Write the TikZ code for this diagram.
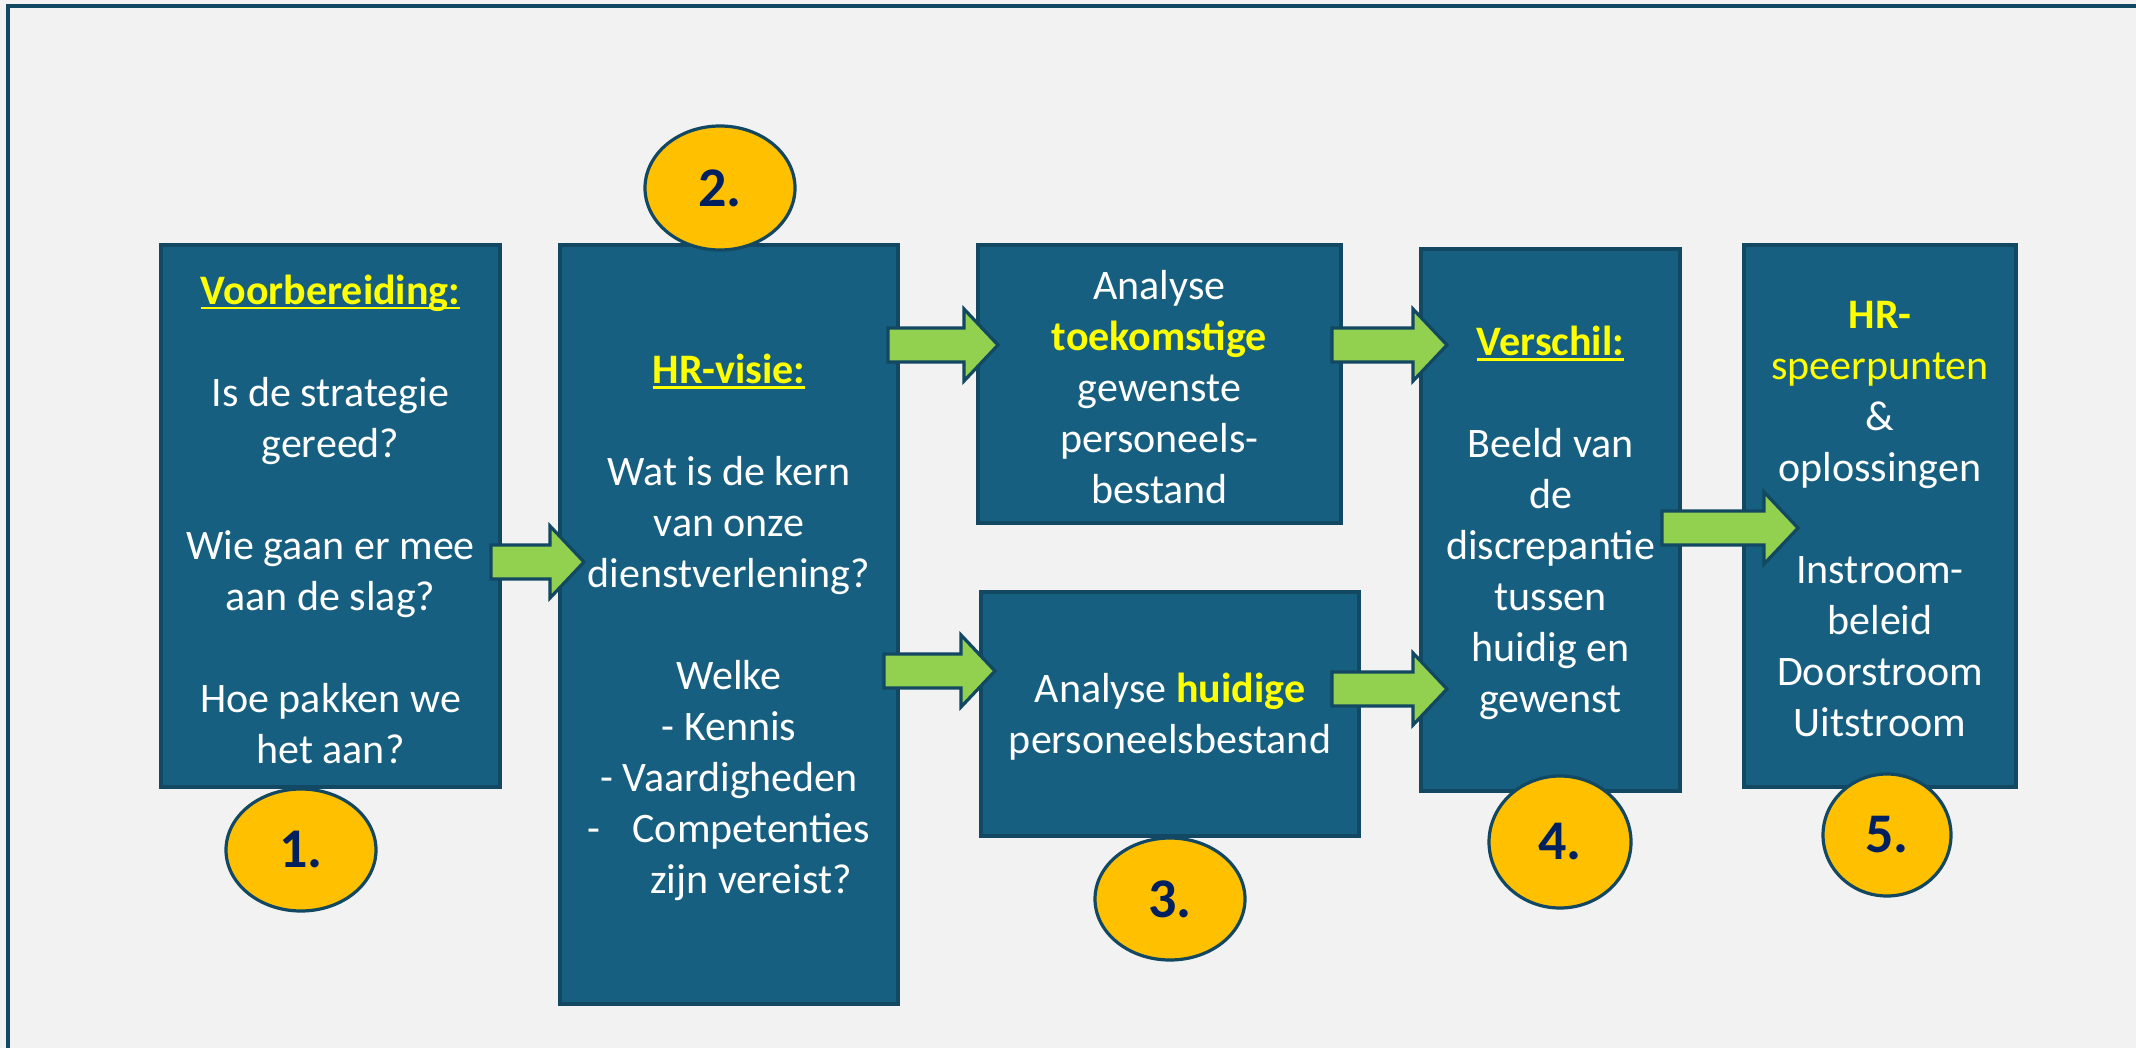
\documentclass[tikz,border=0pt]{standalone}
\usepackage{fontspec}
\setmainfont{Carlito}
\usetikzlibrary{shapes.geometric,calc,fit}

\definecolor{pagebg}{HTML}{F2F2F2}
\definecolor{boxfill}{HTML}{175F80}
\definecolor{edge}{HTML}{124862}
\definecolor{arrowgreen}{HTML}{92D050}
\definecolor{badgefill}{HTML}{FFC000}
\definecolor{badgetext}{HTML}{002060}
\definecolor{hilite}{HTML}{FFFF00}

\tikzset{
  stage/.style={draw=edge, fill=boxfill, line width=1.6pt, inner sep=0pt, outer sep=0pt},
  stagetext/.style={text=white, align=center, inner sep=0pt, font=\fontsize{21}{25.5}\selectfont},
  badge/.style={ellipse, draw=edge, fill=badgefill, line width=1.6pt, inner sep=0pt,
    text=badgetext, font=\fontsize{28}{30}\selectfont\bfseries},
  flowarrow/.style={draw=edge, fill=arrowgreen, line width=1.6pt, line join=miter},
}

% yellow highlight and a thin underline for headings
\newcommand\hl[1]{\textcolor{hilite}{#1}}
\newcommand\uline[1]{\leavevmode\setbox0\hbox{#1}\rlap{\rule[-2.6pt]{\wd0}{1.2pt}}\box0}
\newcommand\heading[1]{\hl{\uline{\bfseries #1}}}

% green block arrow from a tail coordinate to a tip coordinate (same height)
\newcommand\blockarrow[2]{%
  \draw[flowarrow] ($(#1)+(0,-17)$) -- ($(#2)+(-34,-17)$) -- ($(#2)+(-34,-36)$) -- (#2)
    -- ($(#2)+(-34,36)$) -- ($(#2)+(-34,17)$) -- ($(#1)+(0,17)$) -- cycle;}

\begin{document}
\begin{tikzpicture}[x=0.5pt, y=-0.5pt]
  \useasboundingbox (0,0) rectangle (2136,1048);
  \clip (0,0) rectangle (2136,1048);
  \fill[pagebg] (0,0) rectangle (2136,1048);
  \draw[edge, line width=2pt] (8,1060) -- (8,6) -- (2150,6);

  % stage boxes
  \node[stage, fit={(161,245) (500,787)}] (b1) {};
  \node[stage, fit={(560,245) (898,1004)}] (b2) {};
  \node[stage, fit={(978,245) (1341,523)}] (b3) {};
  \node[stage, fit={(981,592) (1359,836)}] (b4) {};
  \node[stage, fit={(1421,249) (1680,791)}] (b5) {};
  \node[stage, fit={(1744,245) (2016,787)}] (b6) {};

  % stage texts
  \node[stagetext] (t1) at ($(b1.center)+(0,3)$) {%
    \heading{Voorbereiding:}\\[25.5pt]
    Is de strategie\\ gereed?\\[25.5pt]
    Wie gaan er mee\\ aan de slag?\\[25.5pt]
    Hoe pakken we\\ het aan?};

  \node[stagetext] (t2) at ($(b2.center)+(0,3)$) {%
    \heading{HR-visie:}\\[25.5pt]
    Wat is de kern\\ van onze\\ dienstverlening?\\[25.5pt]
    Welke\\ - Kennis\\ - Vaardigheden\\ -\hspace{16pt}Competenties\\
    \hspace*{22pt}zijn vereist?};

  \node[stagetext] (t3) at ($(b3.center)+(0,3)$) {%
    Analyse\\ \hl{\bfseries toekomstige}\\ gewenste\\ personeels-\\ bestand};

  \node[stagetext] (t4) at ($(b4.center)+(0,3)$) {%
    Analyse \hl{\bfseries huidige}\\ personeelsbestand};

  \node[stagetext] (t5) at ($(b5.center)+(0,3)$) {%
    \heading{Verschil:}\\[25.5pt]
    Beeld van\\ de\\ discrepantie\\ tussen\\ huidig en\\ gewenst};

  \node[stagetext] (t6) at ($(b6.center)+(0,3)$) {%
    \hl{\bfseries HR-}\\ \hl{speerpunten}\\ \&\\ oplossingen\\[25.5pt]
    Instroom-\\ beleid\\ Doorstroom\\ Uitstroom};

  % arrow ends
  \coordinate (a1s) at ($(b1.east)+(-9,46)$);
  \coordinate (a1e) at ($(b2.west)+(24,-62.5)$);
  \coordinate (a2s) at ($(b2.east)+(-10,-279.5)$);
  \coordinate (a2e) at ($(b3.west)+(20,-39)$);
  \coordinate (a3s) at ($(b2.east)+(-14,46.5)$);
  \coordinate (a3e) at ($(b4.west)+(14,-43)$);
  \coordinate (a4s) at ($(b3.east)+(-9,-39)$);
  \coordinate (a4e) at ($(b5.west)+(26,-175)$);
  \coordinate (a5s) at ($(b4.east)+(-27,-25)$);
  \coordinate (a5e) at ($(b5.west)+(26,169)$);
  \coordinate (a6s) at ($(b5.east)+(-18,8)$);
  \coordinate (a6e) at ($(b6.west)+(54,12)$);

  \blockarrow{a1s}{a1e}
  \blockarrow{a2s}{a2e}
  \blockarrow{a3s}{a3e}
  \blockarrow{a4s}{a4e}
  \blockarrow{a5s}{a5e}
  \blockarrow{a6s}{a6e}

  % step numbers
  \node[badge, minimum width=75pt, minimum height=61pt] (n1) at (301,850) {1.};
  \node[badge, minimum width=75pt, minimum height=62pt] (n2) at (720,188) {2.};
  \node[badge, minimum width=75pt, minimum height=61pt] (n3) at (1170,899) {3.};
  \node[badge, minimum width=71pt, minimum height=66pt] (n4) at (1560,842) {4.};
  \node[badge, minimum width=64pt, minimum height=61pt] (n5) at (1887,835) {5.};
\end{tikzpicture}
\end{document}
